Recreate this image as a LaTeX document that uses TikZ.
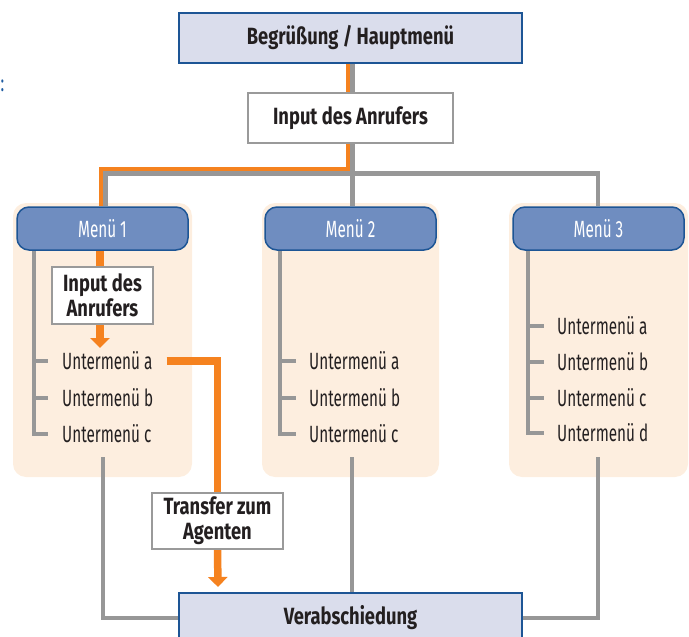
\documentclass[tikz,border=0pt]{standalone}
\usepackage{fontspec}
\setmainfont{Fira Sans}[FakeStretch=0.65]
\newfontfamily\boldfam{Fira Sans}[FakeStretch=0.78]
\usetikzlibrary{arrows.meta,calc}
\definecolor{dblue}{HTML}{1D5595}
\definecolor{lav}{HTML}{DADDEC}
\definecolor{mblue}{HTML}{6F8DC0}
\definecolor{peach}{HTML}{FDEEDF}
\definecolor{orng}{HTML}{F5821F}
\definecolor{lgray}{HTML}{979797}
\definecolor{gbox}{HTML}{9A9A9A}
\definecolor{ink}{HTML}{231F20}
\definecolor{colblue}{HTML}{1D5AA0}
\newcommand\fsz{\fontsize{23.5}{25}\selectfont}
\newcommand\bfsz{\fontsize{23.5}{25}\boldfam\bfseries}
\pgfdeclarelayer{bg}
\pgfdeclarelayer{lines}
\pgfsetlayers{bg,lines,main}
\begin{document}
\begin{tikzpicture}[x=1pt,y=-1pt,
  hdr/.style={draw=dblue, line width=2pt, fill=lav, minimum width=343pt, minimum height=50pt, font=\bfsz, text=ink, inner sep=0pt},
  wbox/.style={draw=gbox, line width=2pt, fill=white, font=\bfsz, text=ink, align=center, inner sep=0pt},
  menu/.style={draw=dblue, line width=1.5pt, fill=mblue, rounded corners=12pt, minimum width=171pt, minimum height=43pt, text=white, font=\fsz, inner sep=0pt},
  panel/.style={fill=peach, rounded corners=13pt, minimum width=179pt, minimum height=274pt, draw=none, inner sep=0pt},
  sub/.style={anchor=west, inner sep=0pt, font=\fsz, text=ink},
  gl/.style={draw=lgray, line width=4pt},
  gt/.style={draw=lgray, line width=4.5pt},
  ot/.style={draw=orng, line width=4.5pt},
  ol/.style={draw=orng, line width=7.5pt},
  tip/.style={-{Triangle[width=19pt,length=10pt]}}
]
\useasboundingbox (0,0) rectangle (689,637);

% panels
\begin{pgfonlayer}{bg}
\node[panel] (p1) at (102.5,340) {};
\node[panel, minimum width=177pt] (p2) at (350.5,340) {};
\node[panel] (p3) at (598.5,340) {};
\end{pgfonlayer}

% nodes
\node[hdr] (top) at (350.5,38) {Begrüßung / Hauptmenü};
\node[wbox, minimum width=205pt, minimum height=50pt] (inp) at (350.5,118) {Input des Anrufers};
\node[menu] (m1) at (102.5,228.5) {Menü 1};
\node[menu] (m2) at (350.5,228.5) {Menü 2};
\node[menu] (m3) at (598.5,228.5) {Menü 3};
\node[wbox, minimum width=101pt, minimum height=57pt] (inp1) at (102.5,295.5) {Input des\\Anrufers};

\node[sub] (u1a) at (62,361) {Untermenü a};
\node[sub] (u1b) at (62,398) {Untermenü b};
\node[sub] (u1c) at (62,434) {Untermenü c};
\node[sub] (u2a) at (309,361) {Untermenü a};
\node[sub] (u2b) at (309,398) {Untermenü b};
\node[sub] (u2c) at (309,434) {Untermenü c};
\node[sub] (u3a) at (557,326) {Untermenü a};
\node[sub] (u3b) at (557,362) {Untermenü b};
\node[sub] (u3c) at (557,398) {Untermenü c};
\node[sub] (u3d) at (557,433) {Untermenü d};

\node[wbox, minimum width=131pt, minimum height=56pt] (tr) at (217.5,521) {Transfer zum\\Agenten};
\node[hdr] (verab) at (350.5,618) {Verabschiedung};

\node[anchor=west, inner sep=0pt, text=colblue, font=\fsz] (colon) at (0.5,86) {:};

\coordinate (oc) at (101,169);
\coordinate (gc) at (105.5,173.5);
\coordinate (gr) at (598,173.5);
\coordinate (b1) at (103,457);
\coordinate (b2) at (352,457);
\coordinate (b3) at (598,457);
\coordinate (t1) at (100,348);
\coordinate (t2) at (218,587);

\begin{pgfonlayer}{lines}
% trunk: gray + orange side by side
\draw[gt] ([xshift=2pt]top.south) -- ([xshift=2pt]inp.north);
\draw[ot] ([xshift=-2.5pt]top.south) -- ([xshift=-2.5pt]inp.north);
\draw[gt] ([xshift=2pt]inp.south) |- (gc) -- (gc |- m1.north);
\draw[gt] ([xshift=2pt]inp.south) |- (gr) -- (gr |- m3.north);
\draw[gt] ([xshift=2pt]inp.south |- gc) -- ([xshift=2pt]inp.south |- m2.north);
\draw[ot] ([xshift=-2.5pt]inp.south) |- (oc) -- (oc |- m1.north);

% trees
\draw[gl] (34,0 |- m1.south) |- ([xshift=-14pt]u1c.west);
\draw[gl] (34,0 |- u1a.west) -- ([xshift=-14pt]u1a.west);
\draw[gl] (34,0 |- u1b.west) -- ([xshift=-14pt]u1b.west);
\draw[gl] (280,0 |- m2.south) |- ([xshift=-13pt]u2c.west);
\draw[gl] (280,0 |- u2a.west) -- ([xshift=-13pt]u2a.west);
\draw[gl] (280,0 |- u2b.west) -- ([xshift=-13pt]u2b.west);
\draw[gl] (528,0 |- m3.south) |- ([xshift=-13pt]u3d.west);
\draw[gl] (528,0 |- u3a.west) -- ([xshift=-13pt]u3a.west);
\draw[gl] (528,0 |- u3b.west) -- ([xshift=-13pt]u3b.west);
\draw[gl] (528,0 |- u3c.west) -- ([xshift=-13pt]u3c.west);

% bottom connectors
\draw[gl] (b1) |- (verab.west);
\draw[gl] (b2) -- (b2 |- verab.north);
\draw[gl] (b3) |- (verab.east);

% orange flow
\draw[ol] (100,0 |- m1.south) -- (100,0 |- inp1.north);
\draw[ol, tip] (100,0 |- inp1.south) -- (t1);
\draw[ol] ([xshift=14pt]u1a.east) -| (tr.north);
\draw[ol, tip] (tr.south) -- (t2);
\end{pgfonlayer}
\end{tikzpicture}
\end{document}
